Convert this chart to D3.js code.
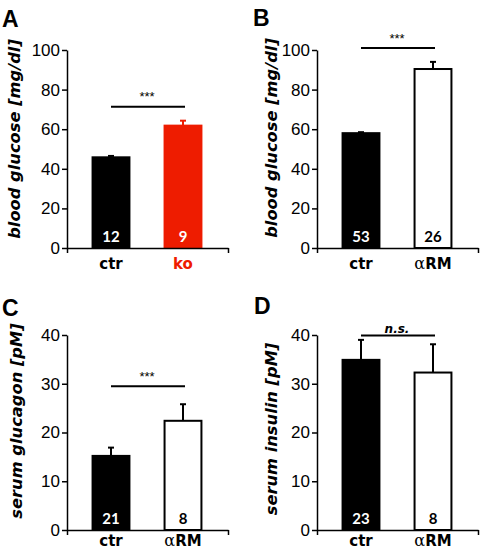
<!DOCTYPE html>
<html>
<head>
<meta charset="utf-8">
<script src="https://cdn.jsdelivr.net/npm/d3@7"></script>
<style>
html,body{margin:0;padding:0;background:#fff;}
svg{display:block;}
</style>
</head>
<body>
<svg id="chart" width="480" height="550"></svg>
<script>
// ---- data ----
const panelLetters = ["A", "B", "C", "D"];
const yLabels = ["blood glucose [mg/dl]", "blood glucose [mg/dl]", "serum glucagon [pM]", "serum insulin [pM]"];
const categoriesA = ["ctr", "ko"];
const categoriesRM = ["ctr", "αRM"];
const meansA = [45.8, 61.8];
const errorsA = [0.7, 2.5];
const meansB = [58.0, 90.4];
const errorsB = [0.5, 3.6];
const meansC = [15.2, 22.4];
const errorsC = [1.7, 3.4];
const meansD = [34.9, 32.3];
const errorsD = [4.1, 5.8];
const countsA = [12, 9];
const countsB = [53, 26];
const countsC = [21, 8];
const countsD = [23, 8];
const ticksGlucose = [0, 20, 40, 60, 80, 100];
const ticksSerum = [0, 10, 20, 30, 40];
const sigLabels = ["***", "***", "***", "n.s."];
const sigLevels = [71.4, 101, 29.5, 39.9];

// ---- layout (not data) ----
const RED = "#ee1c00";
const layout = [
  {x0: 67,  yTop: 50,  yBot: 248, max: 100, ticks: ticksGlucose, labX: 20,  labY: 139, letX: 2,   letY: 27, catDy: 21},
  {x0: 317, yTop: 50,  yBot: 248, max: 100, ticks: ticksGlucose, labX: 277, labY: 138, letX: 253, letY: 26, catDy: 21},
  {x0: 67,  yTop: 335, yBot: 530, max: 40,  ticks: ticksSerum,   labX: 22,  labY: 421, letX: 2,   letY: 316, catDy: 16},
  {x0: 317, yTop: 335, yBot: 530, max: 40,  ticks: ticksSerum,   labX: 277, labY: 429, letX: 254, letY: 314, catDy: 16}
];
const panelData = [
  {cats: categoriesA,  means: meansA, errs: errorsA, n: countsA, fills: ["#000", RED], strokes: ["#000", RED], nFill: ["#fff", "#fff"], catFill: ["#000", RED]},
  {cats: categoriesRM, means: meansB, errs: errorsB, n: countsB, fills: ["#000", "#fff"], strokes: ["#000", "#000"], nFill: ["#fff", "#000"], catFill: ["#000", "#000"]},
  {cats: categoriesRM, means: meansC, errs: errorsC, n: countsC, fills: ["#000", "#fff"], strokes: ["#000", "#000"], nFill: ["#fff", "#000"], catFill: ["#000", "#000"]},
  {cats: categoriesRM, means: meansD, errs: errorsD, n: countsD, fills: ["#000", "#fff"], strokes: ["#000", "#000"], nFill: ["#fff", "#000"], catFill: ["#000", "#000"]}
];

const svg = d3.select("#chart");
const AXW = 161;

layout.forEach((L, i) => {
  const P = panelData[i];
  const g = svg.append("g");
  const y = d3.scaleLinear().domain([0, L.max]).range([L.yBot, L.yTop]);
  const x = d3.scaleBand().domain(P.cats).range([L.x0 + 8, L.x0 + 152]).paddingInner(0.46).paddingOuter(0.23);
  const xEnds = d3.scaleLinear().domain([0, 2]).range([L.x0, L.x0 + AXW]);

  const rows = P.cats.map((c, j) => ({c, m: P.means[j], e: P.errs[j], n: P.n[j], fill: P.fills[j], stroke: P.strokes[j], nFill: P.nFill[j], catFill: P.catFill[j]}));

  // error bars (upward only)
  rows.forEach(r => {
    const cx = x(r.c) + x.bandwidth() / 2;
    g.append("line").attr("x1", cx).attr("x2", cx).attr("y1", y(r.m)).attr("y2", y(r.m + r.e))
      .attr("stroke", r.stroke).attr("stroke-width", 2);
    g.append("line").attr("x1", cx - 3).attr("x2", cx + 3).attr("y1", y(r.m + r.e)).attr("y2", y(r.m + r.e))
      .attr("stroke", r.stroke).attr("stroke-width", 2);
  });

  // bars
  g.selectAll("rect.bar").data(rows).enter().append("rect")
    .attr("x", d => x(d.c) + 1)
    .attr("width", x.bandwidth() - 2)
    .attr("y", d => y(d.m))
    .attr("height", d => y(0) - y(d.m))
    .attr("fill", d => d.fill)
    .attr("stroke", d => d.stroke)
    .attr("stroke-width", 2);

  // n labels
  g.selectAll("text.n").data(rows).enter().append("text")
    .attr("x", d => x(d.c) + x.bandwidth() / 2)
    .attr("y", L.yBot - 6)
    .attr("text-anchor", "middle")
    .attr("font-family", "Lato, 'DejaVu Sans', sans-serif")
    .attr("font-weight", "bold")
    .attr("font-size", 15)
    .attr("fill", d => d.nFill)
    .text(d => d.n);

  // y axis
  const yAxis = d3.axisLeft(y).tickValues(L.ticks).tickSize(5).tickSizeOuter(0).tickPadding(2);
  const ya = g.append("g").attr("transform", `translate(${L.x0},0)`).call(yAxis);
  ya.select(".domain").attr("stroke-width", 1.5);
  ya.selectAll(".tick line").attr("stroke-width", 1.5);
  ya.selectAll(".tick text").attr("font-family", "'Liberation Sans', Arial, sans-serif").attr("font-size", 17).attr("fill", "#000");

  // x axis with end ticks
  const xAxis = d3.axisBottom(xEnds).tickValues([0, 2]).tickFormat("").tickSize(5).tickSizeOuter(0);
  const xa = g.append("g").attr("transform", `translate(0,${L.yBot})`).call(xAxis);
  xa.select(".domain").attr("stroke-width", 1.5);
  xa.selectAll(".tick line").attr("stroke-width", 1.5);

  // category labels
  rows.forEach(r => {
    const t = g.append("text")
      .attr("x", x(r.c) + x.bandwidth() / 2)
      .attr("y", L.yBot + L.catDy)
      .attr("text-anchor", "middle")
      .attr("font-family", "'DejaVu Sans', sans-serif")
      .attr("font-weight", "bold")
      .attr("font-size", 15)
      .attr("fill", r.catFill);
    if (r.c.startsWith("α")) {
      t.append("tspan").attr("font-weight", "normal").attr("font-family", "'DejaVu Serif', serif").attr("font-size", 16).text("α");
      t.append("tspan").text(r.c.slice(1));
    } else {
      t.text(r.c);
    }
  });

  // significance line
  const c0 = x(P.cats[0]) + x.bandwidth() / 2, c1 = x(P.cats[1]) + x.bandwidth() / 2;
  const sy = y(sigLevels[i]);
  g.append("line").attr("x1", c0).attr("x2", c1 + 2).attr("y1", sy).attr("y2", sy)
    .attr("stroke", "#000").attr("stroke-width", 2);
  const isNS = sigLabels[i] === "n.s.";
  g.append("text")
    .attr("x", (c0 + c1) / 2)
    .attr("y", isNS ? sy - 2.5 : sy - 5.5)
    .attr("text-anchor", "middle")
    .attr("font-family", isNS ? "'DejaVu Sans', sans-serif" : "'Liberation Sans', Arial, sans-serif")
    .attr("font-weight", isNS ? "bold" : "normal")
    .attr("font-style", isNS ? "italic" : "normal")
    .attr("font-size", isNS ? 12 : 13)
    .text(sigLabels[i]);

  // y label
  g.append("text")
    .attr("transform", `translate(${L.labX},${L.labY}) rotate(-90)`)
    .attr("text-anchor", "middle")
    .attr("font-family", "'DejaVu Sans', sans-serif")
    .attr("font-weight", "bold")
    .attr("font-style", "italic")
    .attr("font-size", 16.3)
    .text(yLabels[i]);

  // panel letter
  g.append("text")
    .attr("x", L.letX).attr("y", L.letY)
    .attr("font-family", "'Liberation Sans', Arial, sans-serif")
    .attr("font-weight", "bold")
    .attr("font-size", 23)
    .text(panelLetters[i]);
});
</script>
</body>
</html>
